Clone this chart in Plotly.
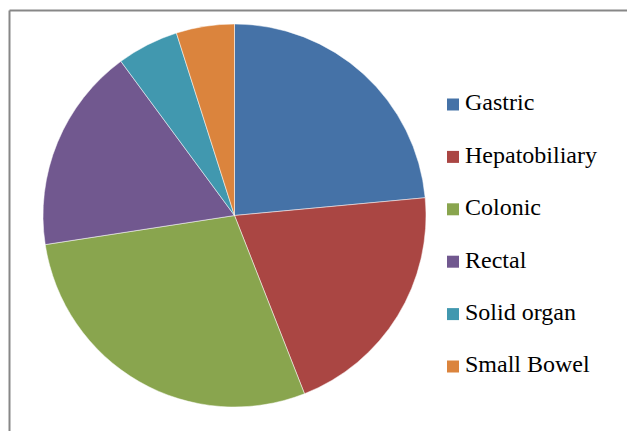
import plotly.graph_objects as go

labels = ["Gastric", "Hepatobiliary", "Colonic", "Rectal", "Solid organ", "Small Bowel"]
values = [23.5, 20.5, 28.5, 17.3, 5.2, 4.9]
colors = ["#4572A7", "#AA4643", "#89A54E", "#71588F", "#4198AF", "#DB843D"]

W, H = 627, 431
FONT = "Liberation Serif"

fig = go.Figure()

# Pie
cx, cy, r = 234.5, 215.5, 191.5
fig.add_trace(go.Pie(
    labels=labels, values=values, sort=False, direction="clockwise", rotation=0,
    marker=dict(colors=colors, line=dict(color="white", width=0.5)),
    textinfo="none", hoverinfo="label+value", showlegend=False,
    domain=dict(x=[(cx - r) / W, (cx + r) / W], y=[(H - (cy + r)) / H, (H - (cy - r)) / H]),
))

# Legend drawn as squares plus labels on a hidden axis
n = len(labels)
rows = list(range(n - 1, -1, -1))
x0_px, x1_px = 453, W
text_dx = 12 / (x1_px - x0_px)
fig.add_trace(go.Scatter(
    x=[0] * n, y=rows, mode="markers",
    marker=dict(symbol="square", size=12, color=colors, line=dict(width=0)),
    showlegend=False, hoverinfo="skip", cliponaxis=False,
))
fig.add_trace(go.Scatter(
    x=[text_dx] * n, y=rows, mode="text",
    text=labels, textposition="middle right",
    textfont=dict(family=FONT, size=24, color="#000000"),
    showlegend=False, hoverinfo="skip", cliponaxis=False,
))

row_top, row_gap = 104.5, 52.4
dom_top = row_top - row_gap / 2
dom_bot = row_top + row_gap * (n - 1) + row_gap / 2
fig.update_layout(
    width=W, height=H, margin=dict(l=0, r=0, t=0, b=0),
    font=dict(family=FONT),
    paper_bgcolor="white", plot_bgcolor="rgba(0,0,0,0)",
    xaxis=dict(domain=[x0_px / W, 1], range=[0, 1], visible=False, fixedrange=True),
    yaxis=dict(domain=[(H - dom_bot) / H, (H - dom_top) / H], range=[-0.5, n - 0.5],
               visible=False, fixedrange=True),
    shapes=[
        dict(type="line", xref="paper", yref="paper", x0=9.5 / W, x1=9.5 / W, y0=-0.1,
             y1=(H - 10.5) / H, line=dict(color="#878787", width=2)),
        dict(type="line", xref="paper", yref="paper", x0=9.5 / W, x1=1.1, y0=(H - 10.5) / H,
             y1=(H - 10.5) / H, line=dict(color="#878787", width=2)),
    ],
)

fig.write_html("out.html", config={"displayModeBar": False},
               post_script="document.body.style.margin='0';document.body.style.overflow='hidden';")
